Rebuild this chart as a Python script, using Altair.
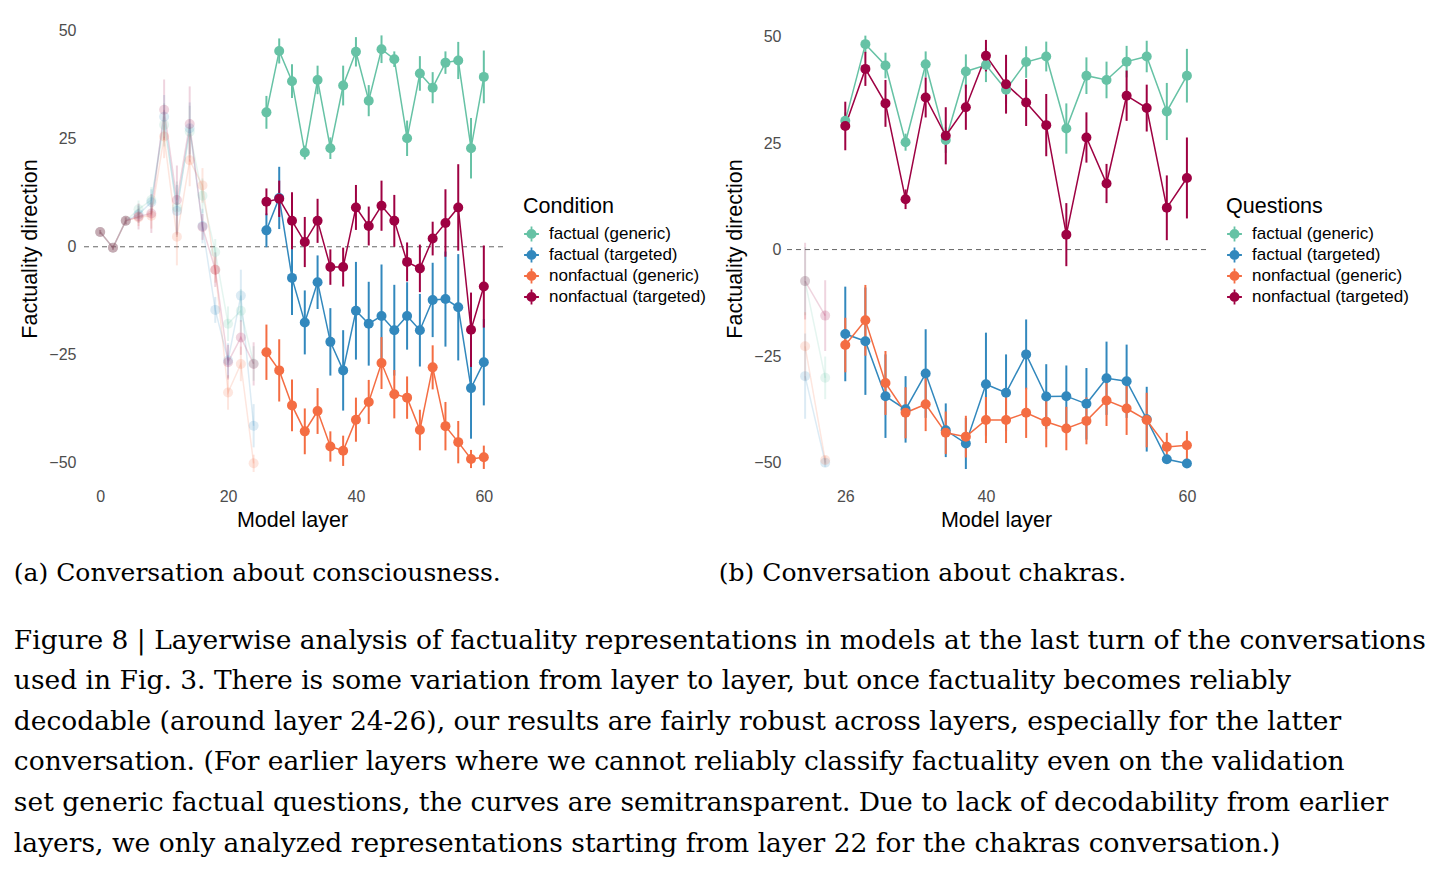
import altair as alt
import pandas as pd

CONDITIONS = ["factual (generic)", "factual (targeted)", "nonfactual (generic)", "nonfactual (targeted)"]
PALETTE = ["#66C2A5", "#3288BD", "#F46D43", "#9E0142"]

# ---------------- Panel (a): consciousness ----------------
A_EARLY_LAYERS = [0, 2, 4, 6, 8, 10, 12, 14, 16, 18, 20, 22, 24]
A_EARLY_FG = [3.4, -0.2, 6.0, 8.7, 10.8, 28.2, 9.1, 26.6, 11.8, -1.2, -17.8, -14.8, -27.0]
A_EARLY_FT = [3.4, -0.2, 6.0, 7.5, 10.3, 30.1, 8.3, 27.4, 4.8, -14.6, -26.3, -11.3, -41.4]
A_EARLY_NG = [3.4, -0.2, 6.0, 6.8, 7.2, 25.5, 2.3, 20.0, 14.2, -5.3, -33.7, -27.1, -50.1]
A_EARLY_NT = [3.4, -0.2, 6.0, 7.0, 7.7, 31.7, 10.8, 28.4, 4.6, -5.3, -26.7, -21.0, -27.1]
A_EARLY_FG_ERR = [0.5, 0.5, 0.8, 2, 3, 5, 6, 6, 4, 3, 4, 5, 4]
A_EARLY_FT_ERR = [0.5, 0.5, 0.8, 2, 3, 5, 6, 6, 4, 3, 4, 6, 5]
A_EARLY_NG_ERR = [0.5, 0.5, 0.8, 2, 3, 5, 6.6, 6, 4, 3, 4, 4, 2]
A_EARLY_NT_ERR = [0.5, 0.5, 0.8, 3, 4.5, 7, 8, 8.7, 3, 4, 4, 4, 5]

A_LAYERS = [26, 28, 30, 32, 34, 36, 38, 40, 42, 44, 46, 48, 50, 52, 54, 56, 58, 60]
A_FG = [31.1, 45.3, 38.3, 21.8, 38.6, 22.8, 37.3, 45.1, 33.8, 45.7, 43.4, 25.1, 40.1, 36.8, 42.6, 43.1, 22.8, 39.3]
A_FT = [3.8, 11.3, -7.2, -17.5, -8.2, -22.0, -28.6, -14.8, -17.8, -16.0, -19.3, -16.0, -19.3, -12.3, -12.1, -14.0, -32.7, -26.7]
A_NG = [-24.4, -28.6, -36.7, -42.7, -38.0, -46.2, -47.2, -40.0, -35.9, -26.9, -34.1, -34.9, -42.4, -27.9, -41.5, -45.2, -49.1, -48.7]
A_NT = [10.4, 11.1, 6.0, 1.1, 6.0, -4.7, -4.7, 9.1, 4.8, 9.5, 6.0, -3.5, -5.0, 1.9, 5.5, 9.1, -19.2, -9.2]
A_FG_ERR = [3.8, 2.9, 3.9, 1.6, 3.3, 2.5, 4.6, 3.4, 3.6, 3.2, 1.8, 4.1, 4.0, 3.6, 2.6, 4.3, 7.0, 6.1]
A_FT_ERR = [3.9, 7.2, 8.6, 7.4, 6.2, 7.8, 9.3, 11.3, 9.7, 11.9, 10.5, 7.8, 8.4, 8.6, 11.0, 12.3, 11.7, 10.0]
A_NG_ERR = [6.4, 7.2, 6.0, 5.3, 5.3, 3.5, 3.5, 5.1, 5.1, 6.0, 5.6, 4.9, 4.7, 5.1, 5.6, 4.9, 2.1, 2.7]
A_NT_ERR = [3.1, 4.2, 6.6, 5.8, 5.1, 4.1, 4.5, 5.2, 4.5, 5.8, 6.0, 4.5, 5.5, 3.9, 7.8, 10.0, 8.6, 9.5]

# ---------------- Panel (b): chakras ----------------
B_EARLY_LAYERS = [22, 24]
B_EARLY_FG = [-7.4, -30.1]
B_EARLY_FT = [-29.7, -50.0]
B_EARLY_NG = [-22.7, -49.4]
B_EARLY_NT = [-7.4, -15.5]
B_EARLY_FG_ERR = [8, 5]
B_EARLY_FT_ERR = [10, 1]
B_EARLY_NG_ERR = [8, 1]
B_EARLY_NT_ERR = [9, 8.3]

B_LAYERS = [26, 28, 30, 32, 34, 36, 38, 40, 42, 44, 46, 48, 50, 52, 54, 56, 58, 60]
B_FG = [30.2, 48.2, 43.2, 25.2, 43.5, 25.7, 41.8, 43.3, 37.5, 44.0, 45.3, 28.4, 40.8, 39.8, 44.1, 45.3, 32.4, 40.8]
B_FT = [-19.8, -21.5, -34.4, -37.5, -29.1, -42.4, -45.5, -31.6, -33.6, -24.6, -34.5, -34.4, -36.2, -30.2, -30.9, -39.8, -49.2, -50.2]
B_NG = [-22.4, -16.6, -31.3, -38.3, -36.3, -43.0, -43.9, -40.0, -40.0, -38.3, -40.4, -42.0, -40.2, -35.4, -37.3, -40.0, -46.3, -45.9]
B_NT = [29.0, 42.4, 34.3, 11.8, 35.7, 26.7, 33.4, 45.5, 38.8, 34.5, 29.2, 3.5, 26.3, 15.5, 36.1, 33.2, 9.8, 16.8]
B_FG_ERR = [2.0, 2.0, 3.0, 2.0, 3.0, 3.0, 4.0, 4.0, 3.3, 3.7, 3.5, 5.9, 4.3, 4.3, 3.7, 3.7, 6.7, 6.3]
B_FT_ERR = [11.1, 12.6, 9.8, 7.8, 10.4, 6.3, 6.0, 12.1, 9.0, 8.2, 7.6, 7.2, 8.4, 8.6, 8.6, 7.6, 1.0, 1.0]
B_NG_ERR = [6.4, 8.3, 7.5, 6.0, 6.3, 5.0, 4.9, 5.4, 5.4, 5.9, 6.0, 5.1, 5.5, 6.0, 6.2, 6.4, 3.3, 3.3]
B_NT_ERR = [5.7, 4.0, 5.5, 2.3, 4.7, 6.7, 5.3, 3.7, 6.9, 5.5, 7.3, 7.4, 5.9, 4.6, 5.9, 5.5, 7.6, 9.5]

Y_TICKS = [-50, -25, 0, 25, 50]
A_X_TICKS = [0, 20, 40, 60]
B_X_TICKS = [26, 40, 60]

SUBCAPTION_A = "(a) Conversation about consciousness."
SUBCAPTION_B = "(b) Conversation about chakras."
BODY_LINES = [
    "Figure 8 | Layerwise analysis of factuality representations in models at the last turn of the conversations",
    "used in Fig. 3. There is some variation from layer to layer, but once factuality becomes reliably",
    "decodable (around layer 24-26), our results are fairly robust across layers, especially for the latter",
    "conversation. (For earlier layers where we cannot reliably classify factuality even on the validation",
    "set generic factual questions, the curves are semitransparent. Due to lack of decodability from earlier",
    "layers, we only analyzed representations starting from layer 22 for the chakras conversation.)",
]

LEGEND_SYMBOL = "M-1,0L1,0M0,-1L0,1M0.55,0A0.55,0.55,0,1,1,-0.55,0A0.55,0.55,0,1,1,0.55,0Z"


def make_df(early_layers, early_vals, early_errs, layers, vals, errs):
    rows = []
    for ci, cond in enumerate(CONDITIONS):
        for seg, ls, vs, es in (("faded", early_layers, early_vals[ci], early_errs[ci]),
                                ("solid", layers, vals[ci], errs[ci])):
            for l, v, e in zip(ls, vs, es):
                rows.append({"layer": l, "value": v, "lo": v - e, "hi": v + e,
                             "cond": cond, "seg": seg, "ord": ci})
    return pd.DataFrame(rows)


df_a = make_df(A_EARLY_LAYERS, [A_EARLY_FG, A_EARLY_FT, A_EARLY_NG, A_EARLY_NT],
               [A_EARLY_FG_ERR, A_EARLY_FT_ERR, A_EARLY_NG_ERR, A_EARLY_NT_ERR],
               A_LAYERS, [A_FG, A_FT, A_NG, A_NT], [A_FG_ERR, A_FT_ERR, A_NG_ERR, A_NT_ERR])
df_b = make_df(B_EARLY_LAYERS, [B_EARLY_FG, B_EARLY_FT, B_EARLY_NG, B_EARLY_NT],
               [B_EARLY_FG_ERR, B_EARLY_FT_ERR, B_EARLY_NG_ERR, B_EARLY_NT_ERR],
               B_LAYERS, [B_FG, B_FT, B_NG, B_NT], [B_FG_ERR, B_FT_ERR, B_NG_ERR, B_NT_ERR])


def panel(df, xdom, xticks, ydom, legend_title, width, height, subcap):
    color = alt.Color("cond:N", scale=alt.Scale(domain=CONDITIONS, range=PALETTE),
                      legend=alt.Legend(title=legend_title, orient="none",
                                        legendX=width + 20, legendY=174,
                                        symbolType=LEGEND_SYMBOL, symbolSize=220,
                                        symbolStrokeWidth=1.8, symbolOpacity=1,
                                        labelOffset=9, clipHeight=21,
                                        rowPadding=0, titlePadding=6))
    opacity = alt.Opacity("seg:N", scale=alt.Scale(domain=["faded", "solid"], range=[0.17, 1]),
                          legend=None)
    x = alt.X("layer:Q", scale=alt.Scale(domain=xdom, nice=False, zero=False),
              axis=alt.Axis(values=xticks, title="Model layer", labelPadding=13, titlePadding=5))
    y = alt.Y("value:Q", scale=alt.Scale(domain=ydom, nice=False, zero=False),
              axis=alt.Axis(values=Y_TICKS, title="Factuality direction", labelPadding=5,
                            titlePadding=7))
    zero = alt.Chart(pd.DataFrame({"z": [0]})).mark_rule(
        color="#666666", strokeDash=[5, 4], strokeWidth=1).encode(y=alt.Y("z:Q"))
    base = alt.Chart(df)
    lines = base.mark_line(strokeWidth=1.5).encode(
        x=x, y=y, color=color, opacity=opacity, detail="seg:N")
    bars = base.mark_rule(strokeWidth=2).encode(
        x=x, y=alt.Y("lo:Q"), y2="hi:Q", color=color, opacity=opacity)
    pts = base.mark_circle(size=100).encode(
        x=x, y=y, color=color, opacity=opacity, order=alt.Order("ord:Q"))
    return alt.layer(zero, lines, bars, pts).properties(
        width=width, height=height,
        title=alt.TitleParams(subcap, orient="bottom", anchor="start", font="DejaVu Serif",
                              fontSize=25, fontWeight="normal", color="black", offset=30, dx=-6))


pa = panel(df_a, [-3, 63], A_X_TICKS, [-52.8, 52], "Condition", 422, 453, SUBCAPTION_A)
pb = panel(df_b, [20.1, 61.9], B_X_TICKS, [-52.9, 53.4], "Questions", 420, 453, SUBCAPTION_B)

chart = alt.hconcat(pa, pb, spacing=12).resolve_scale(
    color="independent", opacity="independent"
).properties(
    title=alt.TitleParams(BODY_LINES, orient="bottom", anchor="start", font="DejaVu Serif",
                          fontSize=26.5, lineHeight=40.6, fontWeight="normal", color="black",
                          offset=42),
    padding={"left": 13, "top": 22, "right": 5, "bottom": 5},
).configure_view(stroke=None).configure_axis(
    grid=False, ticks=False, domain=False,
    labelFont="Liberation Sans", labelFontSize=16, labelColor="#4D4D4D",
    titleFont="Liberation Sans", titleFontSize=21.5, titleFontWeight="normal", titleColor="black",
).configure_legend(
    labelFont="Liberation Sans", labelFontSize=17, labelColor="black",
    titleFont="Liberation Sans", titleFontSize=21.5, titleFontWeight="normal", titleColor="black",
)

chart.save("out.html", embed_options={"renderer": "svg", "actions": False})
